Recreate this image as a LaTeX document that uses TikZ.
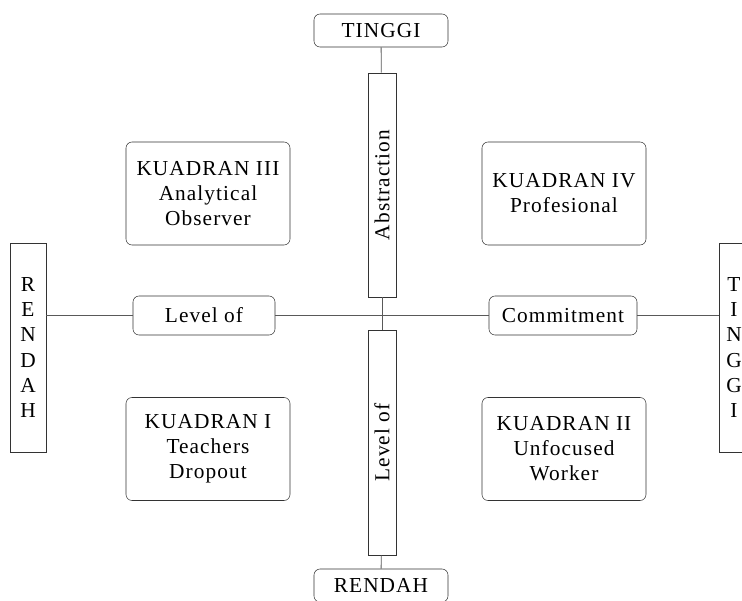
\documentclass[tikz,border=0pt]{standalone}
\usepackage{fontspec}
\setmainfont[LetterSpace=5]{Liberation Serif}
\begin{document}
\begin{tikzpicture}[x=0.75pt,y=-0.75pt,
  box/.style={draw=black!80, rounded corners=4.5pt, inner sep=0pt, align=center,
    font=\fontsize{16}{18.75}\selectfont},
  bar/.style={draw=black!80, inner sep=0pt, rotate=90, font=\fontsize{16}{18.75}\selectfont},
  side/.style={draw=black!80, inner sep=0pt, minimum width=27pt, minimum height=156.75pt},
  letters/.style={inner sep=0pt, align=center, font=\fontsize{16}{19}\selectfont},
  link/.style={draw=black!65, line width=0.6pt}]
\useasboundingbox (0,0) rectangle (742,600);

\node [box, minimum width=100.5pt, minimum height=24.75pt] (TinggiA) at (381,30.5) {TINGGI};
\node [box, minimum width=100.5pt, minimum height=24.75pt] (RendahB) at (381,585.5) {RENDAH};
\node [bar, minimum width=168pt, minimum height=21pt] (Abs) at (382,185) {Abstraction};
\node [bar, minimum width=168.75pt, minimum height=21pt] (LevV) at (382,442.5) {Level of};
\node [side] (RendahL) at (28,347.5) {};
\node [letters] (RendahTxt) at (RendahL) {R\\E\\N\\D\\A\\H};
\node [side] (TinggiR) at (737,347.5) {};
\node [letters] (TinggiTxt) at (734,347.5) {T\\I\\N\\G\\G\\I};
\node [box, minimum width=106.5pt, minimum height=29.25pt] (LevH) at (204,315.5) {Level of};
\node [box, minimum width=111pt, minimum height=29.25pt] (Com) at (563,315.5) {Commitment};

\node [box, minimum width=123pt, minimum height=77.25pt] (K3) at (208,193.5) {KUADRAN III\\Analytical\\Observer};
\node [box, minimum width=123pt, minimum height=77.25pt] (K4) at (564,193.5) {KUADRAN IV\\Profesional};
\node [box, minimum width=123pt, minimum height=77.25pt] (K1) at (208,449) {KUADRAN I\\Teachers\\Dropout};
\node [box, minimum width=123pt, minimum height=77.25pt] (K2) at (564,449) {KUADRAN II\\Unfocused\\Worker};

\draw [link] (TinggiA) -- (Abs);
\draw [link] (Abs) -- (LevV);
\draw [link] (LevV) -- (RendahB);
\draw [link] (LevH.west -| RendahL.east) -- (LevH.west);
\draw [link] (LevH) -- (Com);
\draw [link] (Com.east) -- (Com.east -| TinggiR.west);
\end{tikzpicture}
\end{document}
